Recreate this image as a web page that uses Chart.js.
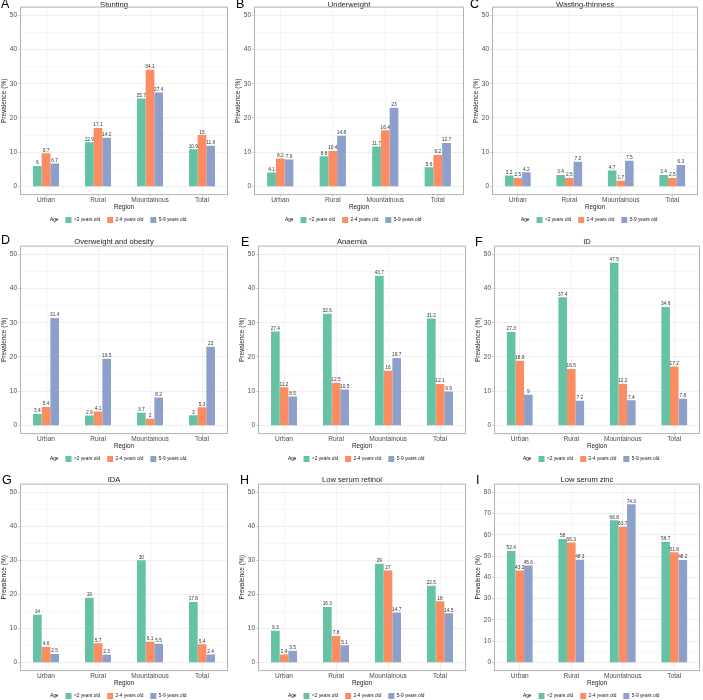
<!DOCTYPE html>
<html>
<head>
<meta charset="utf-8">
<script src="https://cdn.jsdelivr.net/npm/chart.js@4.4.1/dist/chart.umd.min.js"></script>
<style>
  body { margin: 0; background: #fff; width: 703px; height: 700px; overflow: hidden; position: relative; font-family: "Liberation Sans", Arial, sans-serif; }
  .panel { position: absolute; }
  .letter { position: absolute; font-size: 12.5px; line-height: 12.5px; color: #000; }
</style>
</head>
<body>
<script>
// data
const regions = ['Urban', 'Rural', 'Mountainous', 'Total'];
const ageGroups = ['<2 years old', '2-4 years old', '5-9 years old'];

// each array: one row per age group, values per region
const stunting = [[6, 12.9, 25.7, 10.9], [9.7, 17.1, 34.1, 15], [6.7, 14.2, 27.4, 11.9]];
const underweight = [[4.1, 8.8, 11.7, 5.6], [8.2, 10.4, 16.4, 9.2], [7.9, 14.8, 23, 12.7]];
const wasting = [[3.2, 3.4, 4.7, 3.4], [2.5, 2.5, 1.7, 2.5], [4.2, 7.2, 7.5, 6.3]];
const overweight = [[3.4, 2.9, 3.7, 3], [5.4, 4.1, 2, 5.3], [31.4, 19.5, 8.2, 23]];
const anaemia = [[27.4, 32.6, 43.7, 31.2], [11.2, 12.5, 16, 12.1], [8.5, 10.5, 19.7, 9.9]];
const ironDef = [[27.3, 37.4, 47.5, 34.6], [18.9, 16.5, 12.2, 17.2], [9, 7.2, 7.4, 7.8]];
const ida = [[14, 19, 30, 17.8], [4.6, 5.7, 6.1, 5.4], [2.5, 2.3, 5.5, 2.4]];
const retinol = [[9.3, 16.3, 29, 22.5], [2.4, 7.8, 27, 18], [3.5, 5.1, 14.7, 14.5]];
const zinc = [[52.4, 58, 66.8, 56.7], [43.2, 56.3, 63.7, 51.8], [45.6, 48.3, 74.3, 48.2]];

const yTicks50 = [0, 10, 20, 30, 40, 50];
const yTicks80 = [0, 10, 20, 30, 40, 50, 60, 70, 80];

const colors = ['#66C2A5', '#FC8D62', '#8DA0CB'];

const panels = [
  { letter: 'A', title: 'Stunting', data: stunting, ticks: yTicks50 },
  { letter: 'B', title: 'Underweight', data: underweight, ticks: yTicks50 },
  { letter: 'C', title: 'Wasting-thinness', data: wasting, ticks: yTicks50 },
  { letter: 'D', title: 'Overweight and obesity', data: overweight, ticks: yTicks50 },
  { letter: 'E', title: 'Anaemia', data: anaemia, ticks: yTicks50 },
  { letter: 'F', title: 'ID', data: ironDef, ticks: yTicks50 },
  { letter: 'G', title: 'IDA', data: ida, ticks: yTicks50 },
  { letter: 'H', title: 'Low serum retinol', data: retinol, ticks: yTicks50 },
  { letter: 'I', title: 'Low serum zinc', data: zinc, ticks: yTicks80 }
];

// panel boxes: [left, top, width, height] and letter [x, y]
const boxes = [
  [0, 0, 230, 233], [234, 0, 232, 233], [472, 0, 228, 233],
  [0, 238, 230, 234], [238, 238, 230, 234], [474, 238, 228, 234],
  [0, 476, 230, 233], [238, 476, 230, 233], [474, 476, 228, 233]
];
const letterPos = [
  [1, -2], [236, -2], [470, -2],
  [1, 234], [241, 236], [475, 236],
  [2, 474], [240, 474], [476, 474]
];

// grey frame round the plot area
const borderPlugin = {
  id: 'panelBorder',
  afterDatasetsDraw(chart) {
    const a = chart.chartArea;
    const ctx = chart.ctx;
    ctx.save();
    ctx.strokeStyle = '#B3B3B3';
    ctx.lineWidth = 1;
    ctx.strokeRect(a.left + 0.5, a.top + 0.5, a.right - a.left - 1, a.bottom - a.top - 1);
    ctx.restore();
  }
};

// value text above each bar
const valueLabels = {
  id: 'valueLabels',
  afterDatasetsDraw(chart) {
    const ctx = chart.ctx;
    ctx.save();
    ctx.font = '4.8px "Liberation Sans", Arial, sans-serif';
    ctx.fillStyle = '#333';
    ctx.textAlign = 'center';
    ctx.textBaseline = 'bottom';
    chart.data.datasets.forEach((ds, i) => {
      chart.getDatasetMeta(i).data.forEach((bar, j) => {
        ctx.fillText(String(ds.data[j]), bar.x, bar.y - 0.5);
      });
    });
    ctx.restore();
  }
};

panels.forEach((p, k) => {
  const b = boxes[k];
  const firstRow = k < 3;
  const div = document.createElement('div');
  div.className = 'panel';
  div.style.left = b[0] + 'px';
  div.style.top = b[1] + 'px';
  div.style.width = b[2] + 'px';
  div.style.height = b[3] + 'px';
  const canvas = document.createElement('canvas');
  div.appendChild(canvas);
  document.body.appendChild(div);

  const lab = document.createElement('div');
  lab.className = 'letter';
  lab.textContent = p.letter;
  lab.style.left = letterPos[k][0] + 'px';
  lab.style.top = letterPos[k][1] + 'px';
  document.body.appendChild(lab);

  const top = p.ticks[p.ticks.length - 1];
  const pad = top * 0.05;
  const allTicks = [];
  for (let v = 0; v <= top; v += 5) allTicks.push(v);

  new Chart(canvas, {
    type: 'bar',
    data: {
      labels: regions,
      datasets: p.data.map((vals, i) => ({
        label: ageGroups[i],
        data: vals,
        backgroundColor: colors[i],
        categoryPercentage: 0.5,
        barPercentage: 1.0
      }))
    },
    options: {
      responsive: true,
      maintainAspectRatio: false,
      animation: false,
      layout: { padding: { left: 0, right: 2, top: 0, bottom: 0 } },
      font: { family: '"Liberation Sans", Arial, sans-serif' },
      plugins: {
        title: {
          display: true,
          text: p.title,
          color: '#1a1a1a',
          font: { size: 7.6, lineHeight: 1, weight: 'normal', family: '"Liberation Sans", Arial, sans-serif' },
          padding: firstRow ? { top: 1.5, bottom: -2.5 } : { top: 0, bottom: 0 }
        },
        legend: {
          position: 'bottom',
          labels: {
            boxWidth: 6,
            boxHeight: 6,
            padding: 7,
            color: '#1a1a1a',
            font: { size: 4.8, family: '"Liberation Sans", Arial, sans-serif' },
            generateLabels(chart) {
              const items = Chart.defaults.plugins.legend.labels.generateLabels(chart);
              items.forEach(it => { it.lineWidth = 0; });
              return [{ text: 'Age', fillStyle: 'rgba(0,0,0,0)', strokeStyle: 'rgba(0,0,0,0)', lineWidth: 0, hidden: false, datasetIndex: -1 }].concat(items);
            }
          }
        },
        tooltip: { enabled: false }
      },
      scales: {
        x: {
          offset: true,
          grid: { offset: false, color: '#EBEBEB', lineWidth: 0.6, tickLength: 2, tickColor: '#B3B3B3' },
          border: { display: false },
          ticks: { color: '#4D4D4D', font: { size: 6.6, lineHeight: 1 }, padding: 0, maxRotation: 0 },
          title: { display: true, text: 'Region', color: '#1a1a1a', font: { size: 6.3, lineHeight: 1 }, padding: { top: 0, bottom: 0 } }
        },
        y: {
          min: -pad,
          max: top + pad,
          afterBuildTicks(axis) { axis.ticks = allTicks.map(v => ({ value: v })); },
          grid: {
            color: ctx => (ctx.tick && ctx.tick.value % 10 === 0) ? '#E3E3E3' : '#F2F2F2',
            lineWidth: 0.6,
            tickLength: 2,
            tickColor: ctx => (ctx.tick && ctx.tick.value % 10 === 0) ? '#B3B3B3' : 'rgba(0,0,0,0)'
          },
          border: { display: false },
          ticks: {
            color: '#4D4D4D',
            font: { size: 6.5 },
            padding: 1,
            callback: v => (v % 10 === 0 ? v : '')
          },
          title: { display: true, text: 'Prevalence (%)', color: '#1a1a1a', font: { size: 6.5 }, padding: { top: 0, bottom: 1 } }
        }
      }
    },
    plugins: [borderPlugin, valueLabels]
  });
});
</script>
</body>
</html>
